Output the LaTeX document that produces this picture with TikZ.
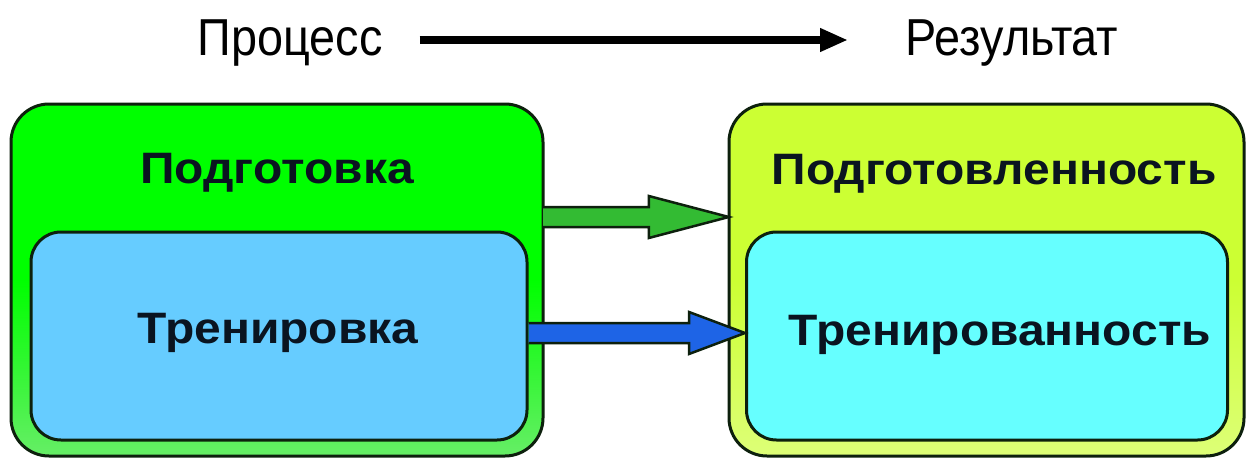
\documentclass[tikz,border=0pt]{standalone}
\usepackage{fontspec}
\setmainfont{Liberation Sans}
\newfontfamily\headfont[FakeStretch=0.9]{Liberation Sans}
\newfontfamily\boxfont[FakeStretch=1.09]{Liberation Sans}
\usetikzlibrary{calc,arrows.meta}
\definecolor{procgreen}{HTML}{00FF00}
\definecolor{procgreenlow}{HTML}{66EE66}
\definecolor{trainblue}{HTML}{66CCFF}
\definecolor{resyellow}{HTML}{CCFF33}
\definecolor{resyellowlow}{HTML}{DDFF77}
\definecolor{rescyan}{HTML}{66FFFF}
\definecolor{arrgreen}{HTML}{33BB33}
\definecolor{arrblue}{HTML}{1E64E6}
\definecolor{edge}{HTML}{0D200D}
\definecolor{ink}{HTML}{0A1420}
\tikzset{
  outerbox/.style={draw=edge, line width=3pt, rounded corners=38pt, inner sep=0pt},
  innerbox/.style={draw=edge, line width=3pt, rounded corners=30pt, inner sep=0pt},
  boldlabel/.style={font=\boxfont\fontsize{44}{46}\selectfont\bfseries, text=ink, anchor=base, inner sep=0pt},
  toplabel/.style={font=\headfont\fontsize{52}{54}\selectfont, text=black, anchor=base, inner sep=0pt},
  blockarrow/.style={draw=edge, line width=2.5pt, line join=miter},
}
\begin{document}
\begin{tikzpicture}[x=1pt,y=-1pt]
\useasboundingbox[fill=white] (0,0) rectangle (1256,461);

% header: process -> result
\node[toplabel] (proc) at (290,55) {Процесс};
\node[toplabel] (res) at (1012,55) {Результат};
\coordinate (hs) at (420,40);
\coordinate (he) at (848,40);
\draw[line width=8pt, -{Triangle[length=28pt,width=22pt]}] (proc.east |- hs) ++(37,0) -- (he);

% left column: preparation / training
\path[outerbox, top color=procgreen, bottom color=procgreenlow, middle color=procgreen]
  (11,104) rectangle (543,456);
\node[minimum width=532pt, minimum height=352pt] (prep) at (277,280) {};
\node[innerbox, fill=trainblue, minimum width=496pt, minimum height=208pt] (train) at (279,336) {};
\node[boldlabel] (preplbl) at (277,183) {Подготовка};
\node[boldlabel] (trainlbl) at (278,343) {Тренировка};

% right column: preparedness / trainedness
\path[outerbox, top color=resyellow, bottom color=resyellowlow, middle color=resyellow]
  (729,104) rectangle (1244,456);
\node[minimum width=515pt, minimum height=352pt] (ready) at (986.5,280) {};
\node[innerbox, fill=rescyan, minimum width=481pt, minimum height=208pt] (fit) at (987,336) {};
\node[boldlabel] (readylbl) at (994,184) {Подготовленность};
\node[boldlabel] (fitlbl) at (1000,345) {Тренированность};

% block arrow: preparation -> preparedness
\coordinate (ga) at (prep.east |- 0,217);
\coordinate (gb) at (ready.west |- 0,217);
\draw[blockarrow, fill=arrgreen]
  ($(ga)+(0,-10)$) -- ($(gb)+(-80,-10)$) -- ($(gb)+(-80,-21)$) -- (gb)
  -- ($(gb)+(-80,21)$) -- ($(gb)+(-80,10)$) -- ($(ga)+(0,10)$);

% block arrow: training -> trainedness
\coordinate (ba) at (train.east |- 0,333);
\coordinate (bb) at (fit.west |- 0,333);
\draw[blockarrow, fill=arrblue]
  ($(ba)+(0,-10)$) -- ($(bb)+(-56,-10)$) -- ($(bb)+(-56,-21)$) -- (bb)
  -- ($(bb)+(-56,21)$) -- ($(bb)+(-56,10)$) -- ($(ba)+(0,10)$);
\end{tikzpicture}
\end{document}
